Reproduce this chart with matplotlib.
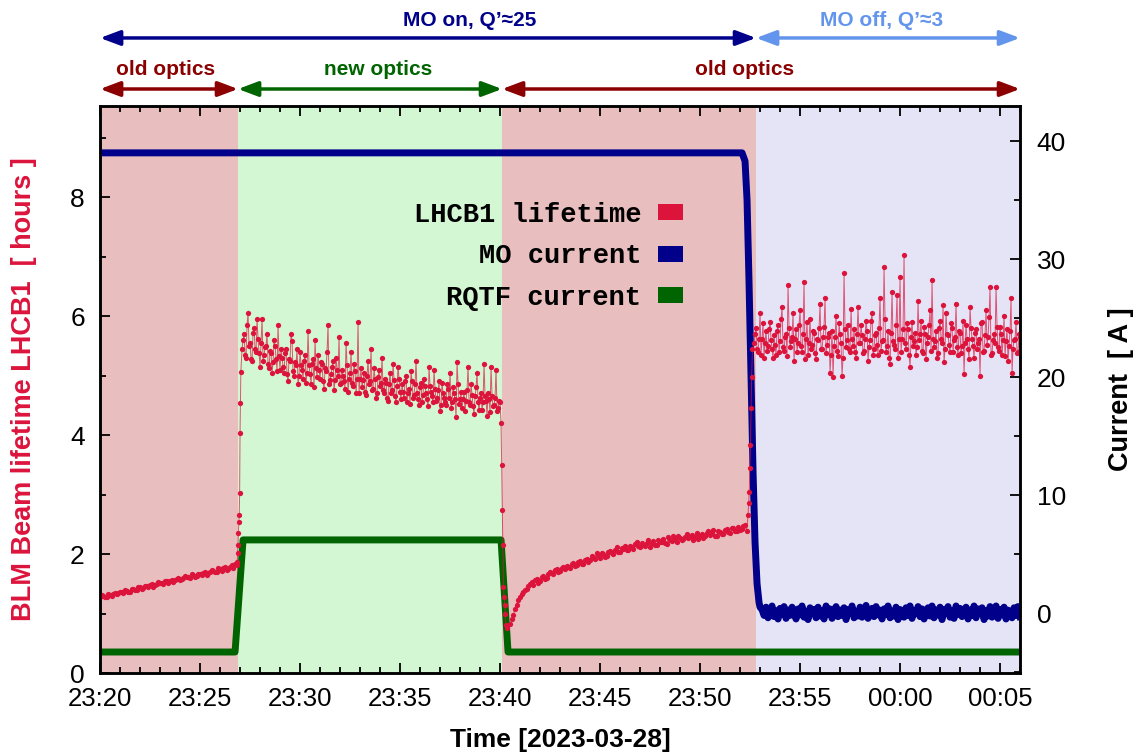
import numpy as np
import matplotlib
matplotlib.use('Agg')
import matplotlib.pyplot as plt
from matplotlib.patches import Patch
from matplotlib.ticker import MultipleLocator

plt.rcParams['font.family'] = ['Liberation Sans', 'DejaVu Sans']

# time axis: minutes after 23:20 on 2023-03-28
tick_pos = [0, 5, 10, 15, 20, 25, 30, 35, 40, 45]
tick_labels = ['23:20', '23:25', '23:30', '23:35', '23:40', '23:45', '23:50', '23:55', '00:00', '00:05']

# background phases (old optics / new optics / old optics / MO off)
phase_edges = [0, 6.9, 20.1, 32.8, 46.0]
phase_colors = ['#e9bebe', '#d3f6d3', '#e9bebe', '#e4e4f6']

# LHCB1 lifetime [h]; two interleaved readings per segment
life_a = [1.28, 1.30, 1.27, 1.31, 1.33, 1.32, 1.36, 1.35, 1.38, 1.37,
          1.41, 1.40, 1.44, 1.43, 1.46, 1.48, 1.45, 1.50, 1.52, 1.49,
          1.54, 1.55, 1.53, 1.58, 1.57, 1.60, 1.62, 1.59, 1.64, 1.63,
          1.66, 1.68, 1.65, 1.70, 1.72, 1.69, 1.74, 1.76, 1.73, 1.79,
          1.77, 1.82]
life_a2 = [1.31, 1.28, 1.33, 1.30, 1.35, 1.34, 1.37, 1.39, 1.36, 1.42,
           1.39, 1.45, 1.42, 1.47, 1.45, 1.50, 1.48, 1.53, 1.51, 1.55,
           1.52, 1.57, 1.56, 1.60, 1.58, 1.63, 1.61, 1.66, 1.62, 1.67,
           1.65, 1.70, 1.68, 1.73, 1.70, 1.76, 1.72, 1.78, 1.75, 1.81,
           1.84]
rise1_t = [6.86, 6.88, 6.90, 6.92, 6.94, 6.96, 6.98, 7.00, 7.02, 7.04]
rise1 = [1.87, 2.02, 2.15, 2.35, 2.54, 2.66, 3.03, 4.03, 4.54, 5.06]
life_b = [5.45, 5.70, 5.30, 6.05, 5.55, 5.25, 5.80, 5.40, 5.62, 5.15,
          5.95, 5.35, 5.50, 5.20, 5.42, 5.05, 5.60, 5.28, 5.85, 5.10,
          5.30, 5.05, 5.45, 4.90, 5.25, 5.58, 5.00, 5.18, 4.85, 5.40,
          5.10, 5.25, 4.88, 5.75, 5.02, 5.20, 4.80, 5.12, 5.35, 4.95,
          5.20, 4.78, 5.08, 5.85, 4.92, 5.15, 4.75, 5.30, 5.00, 4.85,
          5.10, 4.90, 5.55, 4.72, 5.05, 4.88, 5.20, 4.70, 5.90, 4.95,
          4.80, 5.05, 4.68, 5.25, 4.90, 4.75, 5.12, 4.62, 4.98, 4.82,
          5.30, 4.70, 4.88, 4.58, 5.05, 4.75, 4.92, 4.55, 5.15, 4.72,
          4.85, 4.62, 5.00, 4.70, 4.52, 4.90, 4.68, 5.25, 4.60, 4.80,
          4.55, 4.95, 4.70, 4.48, 4.82, 4.65, 5.10, 4.58, 4.75, 4.40,
          4.88, 4.62, 4.50, 4.78, 5.05, 4.55, 4.70, 4.30, 4.85, 4.60,
          4.45, 4.72, 4.58, 5.15, 4.50, 4.68, 4.35, 4.80, 4.55, 4.62,
          4.42, 5.20, 4.58, 4.70, 4.38, 4.65, 4.50, 5.10, 4.45, 4.55]
life_b2 = [5.60, 5.35, 5.85, 5.50, 5.28, 5.72, 5.45, 5.95, 5.38, 5.55,
           5.25, 5.48, 5.70, 5.12, 5.38, 5.22, 5.50, 5.08, 5.32, 5.45,
           5.15, 5.38, 5.02, 5.28, 5.70, 5.08, 5.22, 5.45, 5.00, 5.18,
           4.95, 5.35, 5.05, 5.18, 4.85, 5.28, 5.60, 4.98, 5.10, 5.22,
           4.90, 5.12, 5.40, 4.85, 5.02, 5.25, 4.92, 5.10, 5.65, 4.88,
           5.00, 4.78, 5.18, 4.95, 5.40, 4.82, 5.08, 4.95, 4.70, 5.12,
           4.92, 4.72, 5.00, 4.85, 5.45, 4.78, 4.95, 4.70, 5.10, 4.88,
           4.75, 4.95, 4.62, 4.85, 4.70, 5.20, 4.65, 4.82, 4.95, 4.60,
           4.72, 4.90, 4.55, 4.78, 5.08, 4.62, 4.85, 4.70, 4.50, 4.88,
           4.68, 4.82, 4.60, 5.15, 4.72, 4.55, 4.78, 4.62, 4.90, 4.50,
           4.70, 4.55, 4.85, 4.62, 4.45, 4.80, 4.60, 5.22, 4.52, 4.72,
           4.60, 4.40, 4.75, 4.55, 4.85, 4.48, 4.65, 5.05, 4.42, 4.70,
           4.55, 4.65, 4.32, 4.60, 5.15, 4.48, 4.62, 4.40, 4.58]
fall_t = [20.05, 20.08, 20.11, 20.14, 20.17, 20.20, 20.23, 20.26, 20.30, 20.35]
fall = [4.20, 3.50, 2.74, 2.15, 1.45, 1.28, 1.14, 1.00, 0.80, 0.76]
life_c = [0.82, 0.98, 1.15, 1.28, 1.36, 1.42,
          1.50, 1.48, 1.58, 1.55, 1.63, 1.60,
          1.70, 1.66, 1.74, 1.72, 1.78, 1.80,
          1.76, 1.85, 1.82, 1.88, 1.84, 1.92,
          1.90, 1.95, 2.02, 1.93, 2.00, 1.97,
          2.05, 2.00, 2.12, 2.03, 2.08, 2.06,
          2.14, 2.08, 2.20, 2.11, 2.15, 2.18,
          2.12, 2.22, 2.16, 2.20, 2.26, 2.17,
          2.24, 2.30, 2.21, 2.27, 2.25, 2.33,
          2.28, 2.24, 2.35, 2.30, 2.27, 2.36,
          2.32, 2.40, 2.30, 2.37, 2.34, 2.42,
          2.36, 2.44, 2.38, 2.41, 2.47, 2.39]
life_c2 = [0.90, 1.08, 1.22, 1.33, 1.40, 1.46,
           1.53, 1.56, 1.52, 1.61, 1.58, 1.66,
           1.68, 1.73, 1.70, 1.77, 1.75, 1.79,
           1.83, 1.80, 1.86, 1.83, 1.90, 1.87,
           1.96, 1.92, 1.98, 2.01, 1.95, 2.04,
           2.01, 2.07, 2.04, 2.10, 2.13, 2.07,
           2.11, 2.17, 2.13, 2.19, 2.14, 2.23,
           2.19, 2.15, 2.24, 2.21, 2.19, 2.28,
           2.22, 2.26, 2.31, 2.23, 2.29, 2.27,
           2.32, 2.29, 2.26, 2.34, 2.31, 2.38,
           2.35, 2.31, 2.39, 2.33, 2.41, 2.37,
           2.43, 2.39, 2.46, 2.42, 2.48]
rise2_t = [32.40, 32.43, 32.46, 32.49, 32.52, 32.55, 32.58, 32.62]
rise2 = [2.66, 2.86, 3.04, 3.45, 3.83, 4.45, 4.97, 5.45]
life_d = [5.55, 5.80, 5.40, 6.05, 5.62, 5.30, 5.75, 5.50, 5.90, 5.45,
          5.68, 5.35, 5.85, 5.58, 6.15, 5.42, 5.70, 6.52, 5.48, 5.65,
          5.25, 5.78, 5.55, 6.10, 5.40, 6.57, 5.62, 5.35, 5.95, 5.52,
          5.72, 5.28, 5.60, 6.20, 5.45, 5.82, 5.38, 5.65, 5.05, 5.75,
          5.50, 6.00, 5.32, 5.70, 5.00, 6.72, 5.48, 5.85, 5.40, 5.62,
          5.78, 5.30, 6.15, 5.55, 5.68, 5.42, 5.92, 5.25, 5.60, 6.05,
          5.45, 5.72, 5.35, 6.30, 5.58, 6.82, 5.40, 5.75, 5.20, 6.40,
          5.52, 5.85, 5.30, 6.66, 5.62, 7.03, 5.45, 5.78, 5.15, 5.90,
          5.58, 5.35, 6.25, 5.70, 5.42, 5.82, 5.28, 5.65, 6.10, 6.60,
          5.48, 5.75, 5.38, 5.92, 5.55, 5.22, 6.05, 5.68, 5.40, 5.80,
          5.60, 6.20, 5.35, 5.72, 5.50, 5.02, 5.85, 5.45, 6.15, 5.62,
          5.30, 5.78, 5.55, 5.00, 5.90, 5.42, 6.10, 5.65, 6.49, 5.38,
          5.70, 6.49, 5.48, 5.82, 5.35, 6.00, 5.58, 5.25, 5.75, 5.05,
          5.60, 5.90, 5.40, 5.65]
life_d2 = [5.70, 5.45, 5.62, 5.35, 5.88, 5.55, 5.42, 5.78, 5.60, 5.30,
           5.52, 5.75, 5.40, 5.95, 5.48, 5.65, 5.32, 5.80, 5.58, 6.05,
           5.62, 5.40, 5.85, 5.50, 5.70, 5.28, 5.90, 5.55, 5.45, 5.75,
           5.38, 5.62, 5.80, 5.45, 5.65, 6.30, 5.52, 5.72, 5.35, 4.98,
           5.65, 5.42, 5.88, 5.55, 5.30, 5.78, 5.60, 5.45, 6.12, 5.50,
           5.40, 5.70, 5.55, 5.85, 5.38, 5.62, 5.75, 5.48, 5.92, 5.35,
           5.68, 5.52, 5.80, 5.42, 5.60, 5.95, 5.50, 5.30, 5.72, 5.58,
           5.45, 6.35, 5.62, 5.40, 5.78, 5.55, 5.88, 5.35, 5.65, 5.50,
           5.72, 5.48, 5.60, 5.92, 5.38, 5.70, 5.55, 5.85, 5.42, 5.62,
           5.58, 5.30, 5.80, 5.62, 6.18, 5.45, 5.70, 5.52, 5.88, 5.40,
           5.65, 5.48, 5.75, 5.38, 5.92, 5.55, 5.62, 5.28, 5.80, 5.50,
           5.72, 5.45, 5.62, 5.88, 5.40, 5.68, 5.52, 5.98, 5.35, 5.60,
           5.55, 5.82, 5.42, 5.70, 5.60, 5.32, 5.78, 5.50, 6.30, 5.45,
           5.62, 5.38, 5.70]

# MO current [A]
mo_drop_t = [0, 32.1, 32.25, 32.35, 32.45, 32.55, 32.65, 32.75, 32.85, 32.95, 33.0]
mo_drop = [39.0, 39.0, 38.3, 35.0, 28.0, 20.0, 12.0, 6.0, 2.5, 0.9, 0.5]
mo_off = [0.3, -0.2, 0.5, -0.4, 0.1, 0.6, -0.3, 0.2, -0.5, 0.4,
          -0.1, 0.55, -0.45, 0.25, -0.2, 0.5, 0.0, -0.5, 0.35, -0.15,
          0.6, -0.35, 0.15, -0.55, 0.45, -0.05, 0.3, -0.4, 0.5, -0.25,
          0.2, -0.5, 0.6, -0.1, 0.35, -0.45, 0.05, 0.55, -0.3, 0.25,
          -0.2, 0.45, -0.55, 0.3, -0.05, 0.6, -0.4, 0.1, -0.25, 0.5,
          -0.35, 0.2, 0.65, -0.45, 0.0, 0.4, -0.3, 0.55, -0.15, 0.25,
          -0.5, 0.35, -0.1, 0.6, -0.4, 0.15, -0.25, 0.5, -0.55, 0.3,
          0.05, -0.35, 0.45, -0.2, 0.6, -0.45, 0.2, -0.05, 0.55, -0.3,
          0.35, -0.5, 0.1, 0.45, -0.25, 0.6, -0.4, 0.25, -0.15, 0.5,
          -0.55, 0.3, 0.0, 0.55, -0.35, 0.2, -0.45, 0.6, -0.1, 0.4,
          -0.3, 0.15, 0.5, -0.5, 0.25, -0.2, 0.6, -0.4, 0.35, -0.05,
          0.45, -0.55, 0.2, -0.25, 0.55, -0.35, 0.1, 0.6, -0.45, 0.3,
          -0.15, 0.5, -0.5, 0.25, 0.05, -0.4, 0.45, -0.2, 0.55, -0.3]

# RQTF current [A]
rqtf_t = [0, 6.75, 7.15, 20.05, 20.4, 46.0]
rqtf = [-3.3, -3.3, 6.2, 6.2, -3.3, -3.3]

# assemble time bases
t_life = np.concatenate([np.arange(len(life_a)) / 6, 1 / 12 + np.arange(len(life_a2)) / 6, rise1_t,
                         7.1 + np.arange(len(life_b)) / 10, 7.15 + np.arange(len(life_b2)) / 10, fall_t,
                         20.5 + np.arange(len(life_c)) / 6, 20.5 + 1 / 12 + np.arange(len(life_c2)) / 6, rise2_t,
                         32.7 + np.arange(len(life_d)) / 10, 32.75 + np.arange(len(life_d2)) / 10])
y_life = np.concatenate([life_a, life_a2, rise1, life_b, life_b2, fall, life_c, life_c2, rise2, life_d, life_d2])
order = np.argsort(t_life, kind='stable')
t_life = t_life[order]
y_life = y_life[order]
t_mo = np.concatenate([mo_drop_t, 33.1 + np.arange(len(mo_off)) / 10])
y_mo = np.concatenate([mo_drop, mo_off])

c_life = '#dc143c'
c_mo = '#00008b'
c_rqtf = '#006400'

fig = plt.figure(figsize=(11.33, 7.54), dpi=100)
ax1 = fig.add_axes([0.0883, 0.1074, 0.812, 0.752])
ax2 = ax1.twinx()
ax1.set_zorder(ax2.get_zorder() + 1)
ax1.patch.set_visible(False)

for i in range(4):
    ax2.axvspan(phase_edges[i], phase_edges[i + 1], color=phase_colors[i], lw=0, zorder=0)

ax2.plot(rqtf_t, rqtf, color=c_rqtf, lw=5, solid_joinstyle='round', zorder=2)
ax2.plot(t_mo, y_mo, color=c_mo, lw=5, solid_joinstyle='round', zorder=3)
ax1.plot(t_life, y_life, color=c_life, lw=0.7, alpha=0.7)
ax1.plot(t_life, y_life, 'o', color=c_life, ms=3.8, mew=0)

ax1.set_xlim(0, 46)
ax1.set_ylim(0, 9.53)
ax2.set_ylim(-5.08, 42.97)

ax1.set_xticks(tick_pos)
ax1.set_xticklabels(tick_labels, fontsize=18.5)
ax1.xaxis.set_minor_locator(MultipleLocator(1))
ax1.yaxis.set_major_locator(MultipleLocator(2))
ax1.yaxis.set_minor_locator(MultipleLocator(1))
ax2.yaxis.set_major_locator(MultipleLocator(10))
ax2.yaxis.set_minor_locator(MultipleLocator(5))

ax1.tick_params(axis='x', which='both', direction='in', top=True, bottom=True, width=1.3)
ax1.tick_params(axis='x', which='major', length=7, pad=10)
ax1.tick_params(axis='x', which='minor', length=4.5)
ax1.tick_params(axis='y', which='both', direction='in', left=True, right=False, width=1.3, labelsize=19, pad=11)
ax1.tick_params(axis='y', which='minor', length=4.5)
ax1.tick_params(axis='y', which='major', length=7)
ax2.tick_params(axis='y', which='both', direction='in', width=1.3, labelsize=19, pad=12)
ax2.tick_params(axis='y', which='minor', length=4.5)
ax2.tick_params(axis='y', which='major', length=7)
for ax in (ax1, ax2):
    for s in ax.spines.values():
        s.set_linewidth(1.8)

ax1.set_xlabel('Time [2023-03-28]', fontsize=19, fontweight='bold')
ax1.xaxis.set_label_coords(0.5, -0.097)
ax1.set_ylabel('BLM Beam lifetime LHCB1  [ hours ]', fontsize=19.5, fontweight='bold', color=c_life)
ax1.yaxis.set_label_coords(-0.068, 0.5)
ax2.set_ylabel('Current  [ A ]', fontsize=19.5, fontweight='bold')
ax2.yaxis.set_label_coords(1.0957, 0.5)

handles = [Patch(facecolor=c_life), Patch(facecolor=c_mo), Patch(facecolor=c_rqtf)]
ax1.legend(handles, ['LHCB1 lifetime', 'MO current', 'RQTF current'],
           loc='upper right', bbox_to_anchor=(0.634, 0.831), frameon=False,
           markerfirst=False, borderaxespad=0, borderpad=0,
           handlelength=0.95, handleheight=0.55, handletextpad=0.6, labelspacing=0.57,
           prop=dict(family=['Liberation Mono', 'DejaVu Sans Mono'], weight='bold', size=19.5))

# phase arrows above the plot
trans = ax1.get_xaxis_transform()
arrows = [(0, 32.8, 1.120, c_mo), (32.8, 46.0, 1.120, '#6495ed'),
          (0, 6.9, 1.030, '#8b0000'), (6.9, 20.1, 1.030, '#006400'), (20.1, 46.0, 1.030, '#8b0000')]
for x0, x1, yy, col in arrows:
    ax1.annotate('', xy=(x1, yy), xytext=(x0, yy), xycoords=trans, textcoords=trans,
                 annotation_clip=False,
                 arrowprops=dict(arrowstyle='<|-|>,head_length=0.8,head_width=0.3',
                                 mutation_scale=15, color=col, lw=2.5, shrinkA=0, shrinkB=0))
labels_top = [(18.5, 1.150, 'MO on, Q’≈25', c_mo), (39.1, 1.150, 'MO off, Q’≈3', '#6495ed'),
              (3.3, 1.064, 'old optics', '#8b0000'), (13.9, 1.064, 'new optics', '#006400'),
              (32.25, 1.064, 'old optics', '#8b0000')]
for xx, yy, txt, col in labels_top:
    ax1.text(xx, yy, txt, transform=trans, ha='center', va='center', fontsize=15,
             fontweight='bold', color=col)

fig.savefig('out.png', dpi=100)
